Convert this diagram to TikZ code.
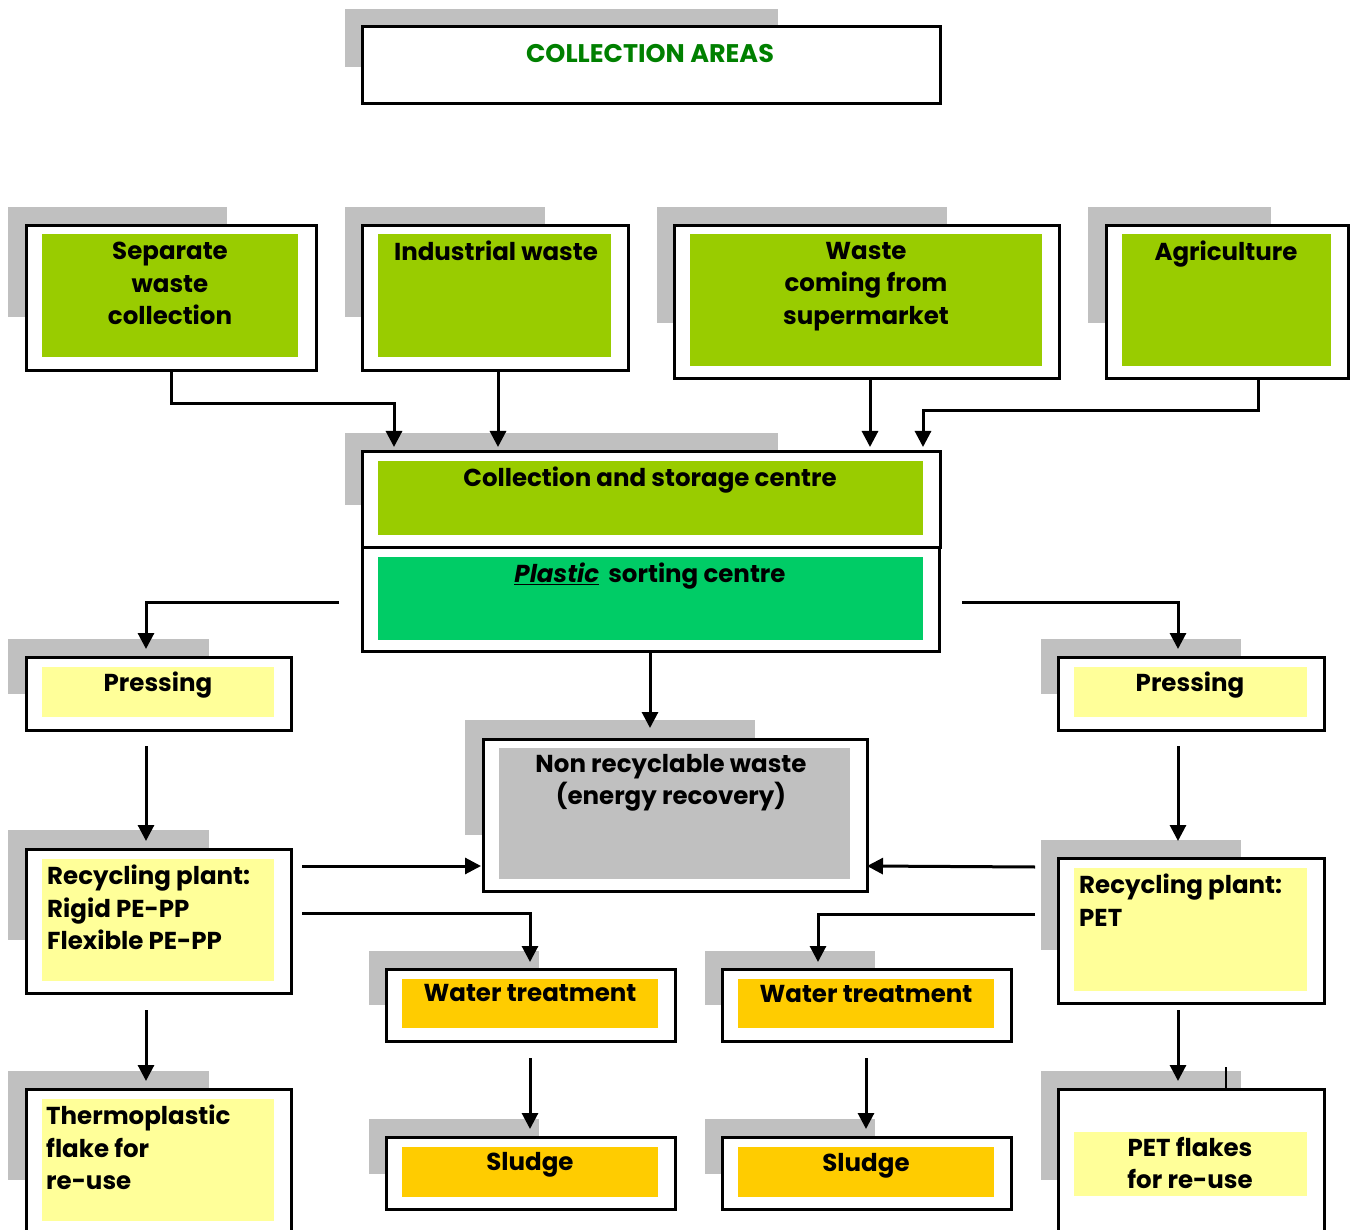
\documentclass[tikz,border=0pt]{standalone}
\usepackage{fontspec}
\setmainfont{Poppins}
\usetikzlibrary{arrows.meta}
\definecolor{shd}{HTML}{C0C0C0}
\definecolor{lime}{HTML}{99CC00}
\definecolor{sortg}{HTML}{00CC66}
\definecolor{pale}{HTML}{FFFF99}
\definecolor{amber}{HTML}{FFCC00}
\definecolor{titleg}{HTML}{008000}
\begin{document}
\begin{tikzpicture}[x=1pt,y=-1pt,
  shade box/.style={fill=shd,draw=none},
  frame/.style={draw=black,line width=2.6pt,fill=white,anchor=north west,inner sep=0pt},
  lbl/.style={font=\bfseries\fontsize{24.5}{32.5}\selectfont,inner sep=0pt,anchor=north,align=center},
  lbll/.style={lbl,anchor=north west,align=left},
  arr/.style={-{Triangle[length=16pt,width=16pt]},line width=3pt}]
\useasboundingbox (0,0) rectangle (1350,1230);
\fill[white] (0,0) rectangle (1350,1230);

% Title
\fill[shade box] (345,9) rectangle (778,67);
\node[frame,minimum width=578,minimum height=77] (title) at (361,25) {};
\node[lbl,text=titleg,font=\bfseries\fontsize{25.5}{32.5}\selectfont] (titleT) at (650,44) {COLLECTION AREAS};

% Separate waste collection
\fill[shade box] (8,207) rectangle (227,317);
\node[frame,minimum width=290,minimum height=145] (sep) at (25,224) {};
\fill[lime] (42,234) rectangle (298,357);
\node[lbl] (sepT) at (170,242) {Separate\\waste\\collection};

% Industrial waste
\fill[shade box] (345,207) rectangle (545,317);
\node[frame,minimum width=266,minimum height=145] (ind) at (361,224) {};
\fill[lime] (378,234) rectangle (611,357);
\node[lbl] (indT) at (496,241) {Industrial waste};

% Supermarket
\fill[shade box] (657,207) rectangle (947,323);
\node[frame,minimum width=385,minimum height=153] (sup) at (673,224) {};
\fill[lime] (690,234) rectangle (1042,366);
\node[lbl] (supT) at (866,242) {Waste\\coming from\\supermarket};

% Agriculture
\fill[shade box] (1088,207) rectangle (1271,323);
\node[frame,minimum width=242,minimum height=153] (agr) at (1105,224) {};
\fill[lime] (1122,234) rectangle (1331,366);
\node[lbl] (agrT) at (1226,241) {Agriculture};

% Collection and storage centre
\fill[shade box] (345,433) rectangle (778,505);
\node[frame,minimum width=578,minimum height=96] (csc) at (361,450) {};
\fill[lime] (378,461) rectangle (923,535);
\node[lbl] (cscT) at (650,467) {Collection and storage centre};

% Plastic sorting centre
\node[frame,minimum width=577,minimum height=104] (psc) at (361,546) {};
\fill[sortg] (378,557) rectangle (923,640);
\node[lbl] (pscT) at (650,563) {\underline{\itshape Plastic}\hspace{9pt}sorting centre};

% Pressing left
\fill[shade box] (8,639) rectangle (209,694);
\node[frame,minimum width=265,minimum height=73] (prl) at (25,656) {};
\fill[pale] (42,667) rectangle (274,717);
\node[lbl] (prlT) at (158,672) {Pressing};

% Pressing right
\fill[shade box] (1041,639) rectangle (1241,694);
\node[frame,minimum width=266,minimum height=73] (prr) at (1057,656) {};
\fill[pale] (1074,667) rectangle (1307,717);
\node[lbl] (prrT) at (1190,672) {Pressing};

% Non recyclable waste
\fill[shade box] (465,720) rectangle (755,835);
\node[frame,minimum width=384,minimum height=152] (nrw) at (482,738) {};
\fill[shd] (499,748) rectangle (850,879);
\node[lbl] (nrwT) at (671,754) {Non recyclable waste\\(energy recovery)};

% Recycling plant left
\fill[shade box] (8,830) rectangle (209,940);
\node[frame,minimum width=265,minimum height=144] (rpl) at (25,848) {};
\fill[pale] (42,859) rectangle (274,981);
\node[lbll] (rplT) at (47,865) {Recycling plant:\\Rigid PE-PP\\Flexible PE-PP};

% Recycling plant right
\fill[shade box] (1041,840) rectangle (1241,950);
\node[frame,minimum width=266,minimum height=145] (rpr) at (1057,857) {};
\fill[pale] (1074,868) rectangle (1307,991);
\node[lbll] (rprT) at (1079,874) {Recycling plant:\\PET};

% Water treatment left
\fill[shade box] (369,951) rectangle (539,1005);
\node[frame,minimum width=289,minimum height=72] (wtl) at (385,968) {};
\fill[amber] (402,979) rectangle (658,1028);
\node[lbl] (wtlT) at (530,984) {Water treatment};

% Water treatment right
\fill[shade box] (705,951) rectangle (875,1005);
\node[frame,minimum width=289,minimum height=72] (wtr) at (721,968) {};
\fill[amber] (738,979) rectangle (994,1028);
\node[lbl] (wtrT) at (866,985) {Water treatment};

% Sludge left
\fill[shade box] (369,1119) rectangle (539,1174);
\node[frame,minimum width=289,minimum height=72] (sgl) at (385,1136) {};
\fill[amber] (402,1147) rectangle (658,1197);
\node[lbl] (sglT) at (530,1152) {Sludge};

% Sludge right
\fill[shade box] (705,1119) rectangle (875,1174);
\node[frame,minimum width=289,minimum height=72] (sgr) at (721,1136) {};
\fill[amber] (738,1147) rectangle (994,1197);
\node[lbl] (sgrT) at (866,1153) {Sludge};

% Thermoplastic flake
\fill[shade box] (8,1071) rectangle (209,1180);
\node[frame,minimum width=265,minimum height=160] (thf) at (25,1088) {};
\fill[pale] (42,1099) rectangle (274,1221);
\node[lbll] (thfT) at (46,1105) {Thermoplastic\\flake for\\re-use};

% PET flakes
\fill[shade box] (1041,1071) rectangle (1241,1180);
\node[frame,minimum width=266,minimum height=160] (pet) at (1057,1088) {};
\fill[pale] (1074,1132) rectangle (1307,1196);
\node[lbl] (petT) at (1190,1137) {PET flakes\\for re-use};
\draw[line width=1.2pt] (1226,1067) -- (1226,1088);

% coordinates for connector ends
\coordinate (c1) at (394,447);
\coordinate (c2) at (498,447);
\coordinate (c3) at (870,447);
\coordinate (c4) at (923,447);
\coordinate (sL) at (339,602);
\coordinate (sR) at (962,602);
\coordinate (pl) at (146,649);
\coordinate (pr) at (1178,649);
\coordinate (plo) at (146,746);
\coordinate (pro) at (1178,746);
\coordinate (rl) at (146,841);
\coordinate (rr) at (1178,841);
\coordinate (rlo) at (146,1010);
\coordinate (rro) at (1178,1010);
\coordinate (tl) at (146,1081);
\coordinate (tr) at (1178,1081);
\coordinate (nl) at (302,866);
\coordinate (nr) at (1035,867);
\coordinate (nlA) at (481,866);
\coordinate (nrA) at (867,866);
\coordinate (wl) at (302,913);
\coordinate (wr) at (1035,914);
\coordinate (wlA) at (530,962);
\coordinate (wrA) at (818,962);
\coordinate (wlo) at (530,1058);
\coordinate (wro) at (866,1058);
\coordinate (sl) at (530,1129);
\coordinate (sr) at (866,1129);
\coordinate (nt) at (650,728);

% connectors
\draw[arr] (sep.south) -- ++(0,32) -| (c1);
\draw[arr] (ind.south -| c2) -- (c2);
\draw[arr] (sup.south -| c3) -- (c3);
\draw[arr] (agr.south -| 1258,0) -- ++(0,31) -| (c4);
\draw[arr] (sL) -| (pl);
\draw[arr] (sR) -| (pr);
\draw[arr] (psc.south -| nt) -- (nt);
\draw[arr] (plo) -- (rl);
\draw[arr] (pro) -- (rr);
\draw[arr] (rlo) -- (tl);
\draw[arr] (rro) -- (tr);
\draw[arr] (nl) -- (nlA);
\draw[arr] (nr) -- (nrA);
\draw[arr] (wl) -| (wlA);
\draw[arr] (wr) -| (wrA);
\draw[arr] (wlo) -- (sl);
\draw[arr] (wro) -- (sr);
\end{tikzpicture}
\end{document}
